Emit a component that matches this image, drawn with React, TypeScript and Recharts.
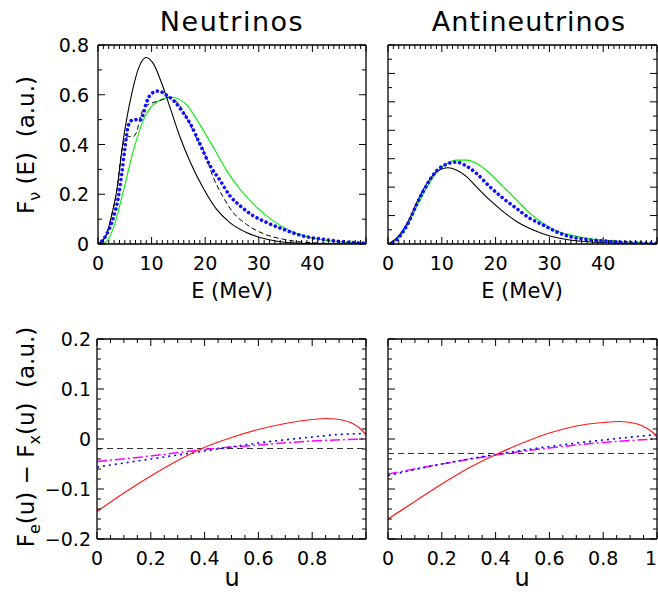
import React from 'react';
import { LineChart, Line, XAxis, YAxis } from 'recharts';

// ---------- Data: top-left (Neutrinos) ----------
const nuBlackE = [0, 0.4, 1.6, 2.6, 3.5, 4.7, 6.3, 7.8, 9.0, 10.3, 11.9, 13.4, 15.3, 17.2, 19.7, 22.1, 24.6, 27.7, 31.5, 35.8, 42, 50];
const nuBlackF = [0, 0.005, 0.039, 0.12, 0.214, 0.416, 0.605, 0.719, 0.750, 0.726, 0.645, 0.551, 0.430, 0.330, 0.222, 0.140, 0.086, 0.046, 0.019, 0.005, 0.001, 0];

const nuGreenE = [0, 1.3, 2.9, 4.7, 6.6, 8.5, 10.9, 13.7, 16.5, 19.0, 21.5, 24.0, 26.5, 29.6, 32.7, 35.8, 39.6, 43.3, 48.3, 50];
const nuGreenF = [0, 0.005, 0.066, 0.21, 0.375, 0.50, 0.57, 0.59, 0.56, 0.48, 0.39, 0.295, 0.22, 0.147, 0.093, 0.053, 0.026, 0.012, 0.005, 0.004];

const nuDashE = [0, 0.4, 1.6, 2.6, 3.5, 4.4, 5.0, 5.7, 6.5, 7.2, 8.0, 9.0, 10.5, 12.0, 13.2, 14.5, 16.0, 17.2, 18.5, 19.7, 21.5, 23.4, 25.2, 27.7, 30.8, 34.6, 40, 50];
const nuDashF = [0, 0.005, 0.039, 0.12, 0.214, 0.37, 0.42, 0.432, 0.432, 0.45, 0.52, 0.555, 0.57, 0.58, 0.59, 0.575, 0.53, 0.48, 0.42, 0.376, 0.268, 0.187, 0.127, 0.079, 0.042, 0.019, 0.005, 0];

const nuBlueE = [0, 0.37, 1.62, 2.86, 3.79, 4.42, 5.04, 5.66, 6.28, 7.21, 7.84, 8.46, 9.08, 10.0, 11.26, 12.81, 14.37, 15.6, 17.2, 19.0, 20.9, 22.8, 24.6, 26.5, 29.0, 31.5, 34.6, 38.3, 42.0, 45.8, 49.5, 50];
const nuBlueF = [0, 0.005, 0.039, 0.106, 0.187, 0.281, 0.389, 0.477, 0.497, 0.500, 0.497, 0.524, 0.571, 0.605, 0.615, 0.598, 0.571, 0.537, 0.484, 0.403, 0.315, 0.255, 0.194, 0.154, 0.113, 0.086, 0.059, 0.032, 0.019, 0.009, 0.004, 0.004];

// ---------- Data: top-right (Antineutrinos) ----------
const anBlackE = [0, 1.55, 2.79, 4.03, 5.27, 6.51, 7.75, 9.0, 11.2, 12.7, 14.6, 16.4, 18.9, 21.4, 23.9, 27.0, 30.1, 33.8, 38.8, 46.2, 50];
const anBlackF = [0, 0.020, 0.049, 0.090, 0.143, 0.190, 0.227, 0.254, 0.268, 0.260, 0.237, 0.202, 0.155, 0.114, 0.079, 0.049, 0.028, 0.014, 0.006, 0.001, 0];

const anGreenE = [0, 1.55, 2.79, 4.03, 5.27, 6.51, 7.75, 9.0, 10.9, 12.7, 14.6, 16.4, 18.9, 21.4, 23.9, 26.4, 28.8, 31.3, 33.8, 36.9, 40.0, 43.7, 47.5, 50];
const anGreenF = [0, 0.014, 0.041, 0.080, 0.130, 0.175, 0.215, 0.250, 0.282, 0.295, 0.295, 0.284, 0.249, 0.202, 0.155, 0.108, 0.073, 0.047, 0.032, 0.020, 0.014, 0.008, 0.004, 0.001];

const anBlueE = [0, 1.55, 2.79, 4.03, 5.27, 6.51, 7.75, 9.0, 10.9, 12.7, 14.6, 16.4, 18.9, 21.4, 23.9, 26.4, 28.8, 31.3, 33.8, 36.9, 40.0, 43.7, 47.5, 50];
const anBlueF = [0, 0.014, 0.043, 0.084, 0.137, 0.184, 0.225, 0.257, 0.281, 0.288, 0.274, 0.249, 0.202, 0.161, 0.125, 0.090, 0.067, 0.043, 0.026, 0.016, 0.011, 0.006, 0.004, 0.002];

// ---------- Data: bottom-left ----------
const blRedU = [0, 0.1, 0.2, 0.3, 0.39, 0.5, 0.6, 0.7, 0.8, 0.85, 0.9, 0.95, 0.98, 1.0];
const blRedV = [-0.145, -0.108, -0.074, -0.043, -0.019, 0.003, 0.019, 0.031, 0.039, 0.041, 0.039, 0.031, 0.020, 0.008];
const blDashU = [0, 1];
const blDashV = [-0.019, -0.019];
const blBlueU = [0, 0.2, 0.4, 0.6, 0.8, 0.9, 1.0];
const blBlueV = [-0.056, -0.040, -0.024, -0.008, 0.004, 0.009, 0.011];
const blMagU = [0, 0.2, 0.4, 0.6, 0.8, 1.0];
const blMagV = [-0.045, -0.034, -0.021, -0.012, -0.004, 0.0];

// ---------- Data: bottom-right ----------
const brRedU = [0, 0.1, 0.2, 0.3, 0.41, 0.5, 0.6, 0.7, 0.8, 0.86, 0.92, 0.96, 0.99, 1.0];
const brRedV = [-0.16, -0.125, -0.09, -0.058, -0.029, -0.008, 0.012, 0.026, 0.033, 0.035, 0.031, 0.022, 0.010, 0.003];
const brDashU = [0, 1];
const brDashV = [-0.029, -0.029];
const brBlueU = [0, 0.2, 0.4, 0.6, 0.8, 1.0];
const brBlueV = [-0.073, -0.050, -0.031, -0.015, -0.002, 0.009];
const brMagU = [0, 0.2, 0.4, 0.6, 0.8, 1.0];
const brMagV = [-0.070, -0.050, -0.032, -0.018, -0.007, 0.0];

// ---------- Tick labels ----------
const topXLabels = [0, 10, 20, 30, 40];
const topXMajors = [0, 10, 20, 30, 40, 50];
const nuYLabels = [0, 0.2, 0.4, 0.6, 0.8];
const nuYMajors = [0, 0.2, 0.4, 0.6, 0.8];
const anYMajors = [0, 0.1, 0.2, 0.3, 0.4, 0.5, 0.6, 0.7];
const botXLabelsL = [0, 0.2, 0.4, 0.6, 0.8];
const botXLabelsR = [0, 0.2, 0.4, 0.6, 0.8, 1];
const botXMajors = [0, 0.2, 0.4, 0.6, 0.8, 1];
const botYLabels = [-0.2, -0.1, 0, 0.1, 0.2];
const botYMajors = [-0.2, -0.1, 0, 0.1, 0.2];

const range = (a: number, b: number, step: number) => {
  const out: number[] = [];
  const n = Math.round((b - a) / step);
  for (let i = 0; i <= n; i++) out.push(+(a + i * step).toFixed(4));
  return out;
};

const FONT = '"DejaVu Sans", sans-serif';
const fmt = (v: number) => (v < 0 ? '\u2212' + String(-v) : String(v));
const pts = (xs: number[], ys: number[]) => xs.map((x, i) => ({ x, y: ys[i] }));
const W = 658, H = 595;

function makeTick(side: string, majors: number[], labels: number[], gap = 9) {
  return (props: any) => {
    const { x, y, payload } = props;
    const v = payload.value;
    const isMaj = majors.some((m) => Math.abs(m - v) < 1e-6);
    const len = isMaj ? 7 : 4;
    const lab = labels.find((l) => Math.abs(l - v) < 1e-6);
    let x2 = x, y2 = y;
    if (side === 'bottom') y2 = y - len;
    else if (side === 'top') y2 = y + len;
    else if (side === 'left') x2 = x + len;
    else x2 = x - len;
    const nearEdge = x > W - 8;
    return (
      <g>
        <line x1={x} y1={y} x2={x2} y2={y2} stroke="#000" strokeWidth={1} />
        {lab !== undefined && side === 'bottom' && (
          <text x={nearEdge ? W - 1 : x} y={y + 26} textAnchor={nearEdge ? 'end' : 'middle'} fontSize={19} fontFamily={FONT} fill="#000">{fmt(lab)}</text>
        )}
        {lab !== undefined && side === 'left' && (
          <text x={x - gap} y={y + 7} textAnchor="end" fontSize={19} fontFamily={FONT} fill="#000">{fmt(lab)}</text>
        )}
      </g>
    );
  };
}

const AX = { stroke: '#000', strokeWidth: 1.3 };

function axes(cfg: any) {
  const common = { tickSize: 0, tickMargin: 0, tickLine: false, interval: 0 as const, axisLine: AX, allowDataOverflow: true, type: 'number' as const };
  return [
    <XAxis key="xb" xAxisId="b" orientation="bottom" dataKey="x" height={1} domain={cfg.xDomain} ticks={cfg.xTicks}
      tick={makeTick('bottom', cfg.xMajors, cfg.xLabels)} {...common} />,
    <XAxis key="xt" xAxisId="t" orientation="top" dataKey="x" height={1} domain={cfg.xDomain} ticks={cfg.xTicks}
      tick={makeTick('top', cfg.xMajors, [])} {...common} />,
    <YAxis key="yl" yAxisId="l" orientation="left" width={1} domain={cfg.yDomain} ticks={cfg.yTicks}
      tick={makeTick('left', cfg.yMajors, cfg.yLabels, cfg.gap)} {...common} />,
    <YAxis key="yr" yAxisId="r" orientation="right" width={1} domain={cfg.yDomain} ticks={cfg.yTicks}
      tick={makeTick('right', cfg.yMajors, [])} {...common} />,
  ];
}

function series(key: string, data: any[], stroke: string, width: number, dash?: string, cap?: string) {
  return (
    <Line key={key} xAxisId="b" yAxisId="l" data={data} dataKey="y" type="monotone" stroke={stroke}
      strokeWidth={width} strokeDasharray={dash} strokeLinecap={cap as any} dot={false} activeDot={false}
      isAnimationActive={false} />
  );
}

const abs: React.CSSProperties = { position: 'absolute', left: 0, top: 0 };
// plot-area margins (axes take 1px each)
const m = (l: number, r: number, t: number, b: number) => ({ left: l - 1, right: W - r - 1, top: t - 1, bottom: H - b - 1 });

export default function App() {
  const eTicks = range(0, 50, 1);
  return (
    <div style={{ ...abs, width: W, height: H, background: '#fff', overflow: 'hidden' }}>
      <div style={abs}>
        <LineChart width={W} height={H} margin={m(98, 366, 45, 244)}>
          {axes({ xDomain: [0, 50], xTicks: eTicks, xMajors: topXMajors, xLabels: topXLabels,
            yDomain: [0, 0.8], yTicks: range(0, 0.8, 0.1), yMajors: nuYMajors, yLabels: nuYLabels, gap: 9 })}
          {series('g', pts(nuGreenE, nuGreenF), '#00f000', 1.1)}
          {series('k', pts(nuBlackE, nuBlackF), '#000', 1.1)}
          {series('d', pts(nuDashE, nuDashF), '#000', 1, '5 3')}
          {series('b', pts(nuBlueE, nuBlueF), '#1010ff', 3.6, '0.01 5', 'round')}
        </LineChart>
      </div>
      <div style={abs}>
        <LineChart width={W} height={H} margin={m(388, 657, 45, 244)}>
          {axes({ xDomain: [0, 50], xTicks: eTicks, xMajors: topXMajors, xLabels: topXLabels,
            yDomain: [0, 0.7], yTicks: range(0, 0.7, 0.05), yMajors: anYMajors, yLabels: [], gap: 9 })}
          {series('g', pts(anGreenE, anGreenF), '#00f000', 1.1)}
          {series('k', pts(anBlackE, anBlackF), '#000', 1.1)}
          {series('b', pts(anBlueE, anBlueF), '#1010ff', 3.6, '0.01 5', 'round')}
        </LineChart>
      </div>
      <div style={abs}>
        <LineChart width={W} height={H} margin={m(97, 366, 339, 539)}>
          {axes({ xDomain: [0, 1], xTicks: range(0, 1, 0.05), xMajors: botXMajors, xLabels: botXLabelsL,
            yDomain: [-0.2, 0.2], yTicks: range(-0.2, 0.2, 0.02), yMajors: botYMajors, yLabels: botYLabels, gap: 6 })}
          {series('d', pts(blDashU, blDashV), '#333', 1.2, '6 4')}
          {series('m', pts(blMagU, blMagV), '#ff00ff', 1.5, '10 3 2 3')}
          {series('b', pts(blBlueU, blBlueV), '#0000ff', 1.6, '2 4')}
          {series('r', pts(blRedU, blRedV), '#ff1a1a', 1.2)}
        </LineChart>
      </div>
      <div style={abs}>
        <LineChart width={W} height={H} margin={m(388, 657, 339, 539)}>
          {axes({ xDomain: [0, 1], xTicks: range(0, 1, 0.05), xMajors: botXMajors, xLabels: botXLabelsR,
            yDomain: [-0.2, 0.2], yTicks: range(-0.2, 0.2, 0.02), yMajors: botYMajors, yLabels: [], gap: 6 })}
          {series('d', pts(brDashU, brDashV), '#333', 1.2, '6 4')}
          {series('m', pts(brMagU, brMagV), '#ff00ff', 1.5, '10 3 2 3')}
          {series('b', pts(brBlueU, brBlueV), '#0000ff', 1.6, '2 4')}
          {series('r', pts(brRedU, brRedV), '#ff1a1a', 1.2)}
        </LineChart>
      </div>
      <svg width={W} height={H} style={{ ...abs, pointerEvents: 'none' }} fontFamily={FONT}>
        <text x={232} y={31} textAnchor="middle" fontSize={27} letterSpacing={1.5}>Neutrinos</text>
        <text x={529} y={31} textAnchor="middle" fontSize={27} letterSpacing={1}>Antineutrinos</text>
        <text x={232} y={298} textAnchor="middle" fontSize={21}>E (MeV)</text>
        <text x={522} y={298} textAnchor="middle" fontSize={21}>E (MeV)</text>
        <text x={232} y={586} textAnchor="middle" fontSize={24}>u</text>
        <text x={522} y={586} textAnchor="middle" fontSize={24}>u</text>
        <text transform="translate(34,145) rotate(-90)" textAnchor="middle" fontSize={23} style={{ whiteSpace: 'pre' }}>
          F<tspan fontSize={16} dy={6}>ν</tspan><tspan dy={-6}> (E)  (a.u.)</tspan>
        </text>
        <text transform="translate(34,437) rotate(-90)" textAnchor="middle" fontSize={23} style={{ whiteSpace: 'pre' }}>
          F<tspan fontSize={16} dy={6}>e</tspan><tspan dy={-6}>(u) − F</tspan><tspan fontSize={16} dy={6}>x</tspan><tspan dy={-6}>(u)  (a.u.)</tspan>
        </text>
      </svg>
    </div>
  );
}
